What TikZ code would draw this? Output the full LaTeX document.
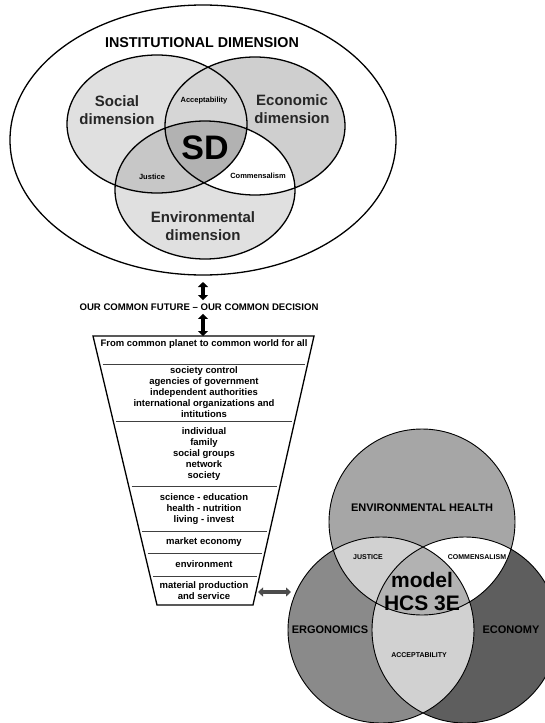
\documentclass[tikz,border=0pt]{standalone}
\usepackage{fontspec}
\setmainfont{Liberation Sans}
\usetikzlibrary{arrows.meta,positioning,calc}

\begin{document}
\begin{tikzpicture}[x=1pt, y=-1pt,
ring/.style={x radius=90pt, y radius=69pt},
disc/.style={radius=93pt},
outline/.style={draw=black, line width=1.3pt},
thinline/.style={draw=black, line width=0.9pt},
divider/.style={draw=black!75, line width=0.8pt, shorten <=3pt, shorten >=3pt},
bigarrow/.style={{Triangle[width=10pt,length=5pt]}-{Triangle[width=10pt,length=5pt]}, line width=3.5pt, black},
sidearrow/.style={{Triangle[width=9pt,length=5pt]}-{Triangle[width=9pt,length=5pt]}, line width=4pt, black!70},
dimtext/.style={font=\fontsize{15}{18.5}\selectfont\bfseries, align=center, text=black!85},
smalltext/.style={font=\fontsize{7.5}{9}\selectfont\bfseries},
funtext/.style={font=\fontsize{9.5}{11}\selectfont\bfseries, align=center},
captext/.style={font=\fontsize{11}{12}\selectfont\bfseries},
]
\useasboundingbox (0,0) rectangle (544,723);

% sustainable development
\coordinate (I) at (203,140);
\coordinate (S) at (157,124);
\coordinate (E) at (255,126);
\coordinate (N) at (205,190);
\draw[outline] (I) ellipse [x radius=193pt, y radius=135pt];
\fill[black!12] (S) ellipse [ring];
\fill[black!19] (E) ellipse [ring];
\fill[black!12] (N) ellipse [ring];
\begin{scope}
\clip (E) ellipse [ring];
\fill[white] (N) ellipse [ring];
\end{scope}
\begin{scope}
\clip (S) ellipse [ring];
\fill[black!16] (E) ellipse [ring];
\fill[black!22] (N) ellipse [ring];
\clip (E) ellipse [ring];
\fill[black!30] (N) ellipse [ring];
\end{scope}
\draw[outline] (S) ellipse [ring] (E) ellipse [ring] (N) ellipse [ring];

\node[font=\fontsize{14.3}{16}\selectfont\bfseries] (inst) at (202,43) {INSTITUTIONAL DIMENSION};
\node[dimtext] (social) at (117,110) {Social\\dimension};
\node[dimtext] (economic) at (292,109) {Economic\\dimension};
\node[dimtext] (environ) at (203,226) {Environmental\\dimension};
\node[smalltext] (accept) at (204,101) {Acceptability};
\node[smalltext] (justice) at (152,177) {Justice};
\node[smalltext] (commens) at (258,176) {Commensalism};
\node[font=\fontsize{34}{40}\selectfont\bfseries] (sd) at (205,148) {SD};

% motto and funnel
\node[font=\fontsize{9.6}{10}\selectfont\bfseries] (motto) at (199,307) {OUR COMMON FUTURE -- OUR COMMON DECISION};
\coordinate (instbot) at (203,282);
\coordinate (fTL) at (93,336);
\coordinate (fTR) at (314,336);
\coordinate (fBR) at (253,605);
\coordinate (fBL) at (157,605);
\draw[bigarrow] (instbot) -- (instbot |- motto.north);
\draw[bigarrow] (instbot |- motto.south) -- (instbot |- fTL);
\draw[outline] (fTL) -- (fTR) -- (fBR) -- (fBL) -- cycle;
\foreach \t in {0.104,0.316,0.558,0.725,0.807,0.892}
  \draw[divider] ($(fTL)!\t!(fBL)$) -- ($(fTR)!\t!(fBR)$);

\node[funtext] (planet) at (204,344) {From common planet to common world for all};
\node[funtext] (control) at (204,392.5) {society control\\agencies of government\\independent authorities\\international organizations and\\intitutions};
\node[funtext] (people) at (204,454) {individual\\family\\social groups\\network\\society};
\node[funtext] (science) at (204,509) {science - education\\health - nutrition\\living - invest};
\node[funtext] (market) at (204,542) {market economy};
\node[funtext] (envir) at (204,564) {environment};
\node[funtext] (material) at (204,590.5) {material production\\and service};

% model HCS 3E
\coordinate (H) at (422,522);
\coordinate (G) at (381,630);
\coordinate (C) at (465,630);
\fill[black!35] (H) circle [disc];
\fill[black!46] (G) circle [disc];
\fill[black!63] (C) circle [disc];
\begin{scope}
\clip (G) circle [disc];
\fill[black!18] (C) circle [disc];
\end{scope}
\begin{scope}
\clip (H) circle [disc];
\fill[white] (C) circle [disc];
\fill[black!18] (G) circle [disc];
\clip (C) circle [disc];
\fill[black!30] (G) circle [disc];
\end{scope}
\draw[thinline] (H) circle [disc] (G) circle [disc] (C) circle [disc];

\node[captext] (health) at (422,508) {ENVIRONMENTAL HEALTH};
\node[captext] (ergo) at (330,630) {ERGONOMICS};
\node[captext] (economy) at (511,630) {ECONOMY};
\node[font=\fontsize{7}{8}\selectfont\bfseries] (hjust) at (368,557) {JUSTICE};
\node[font=\fontsize{7}{8}\selectfont\bfseries] (hcomm) at (477,557) {COMMENSALISM};
\node[font=\fontsize{7}{8}\selectfont\bfseries] (hacc) at (419,655) {ACCEPTABILITY};
\node[font=\fontsize{21}{23}\selectfont\bfseries, align=center] (model) at (422,592) {model\\HCS 3E};

\coordinate (sideL) at (258,592);
\coordinate (sideR) at (291,592);
\draw[sidearrow] (sideL) -- (sideR);

\end{tikzpicture}
\end{document}
